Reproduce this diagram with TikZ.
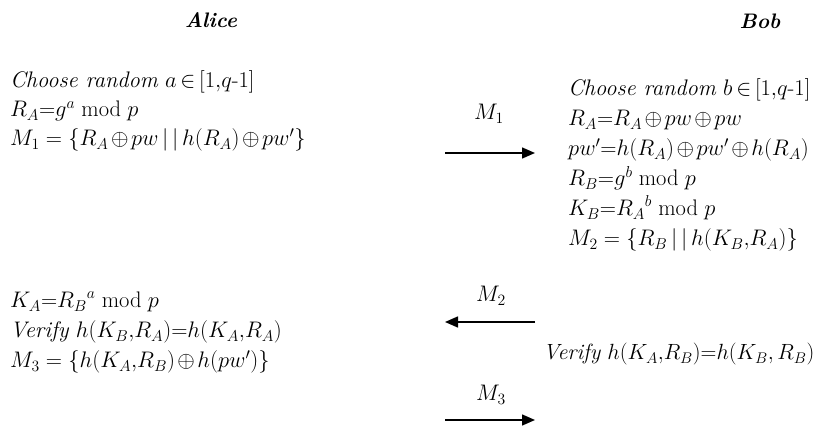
\RequirePackage{fix-cm}
\documentclass[tikz,border=0pt]{standalone}
\usetikzlibrary{arrows.meta}
\newcommand{\fsz}{\fontsize{22.5}{27}\selectfont\medmuskip=2mu plus 1mu minus 1mu}
\tikzset{
  txt/.style={anchor=base west, inner sep=0pt, font=\fsz},
  lbl/.style={anchor=base, inner sep=0pt, font=\fsz},
  head/.style={anchor=base, inner sep=0pt, font=\fontsize{21}{25}\selectfont\bfseries\itshape},
  msg/.style={line width=1.5pt, -{Triangle[length=13pt,width=11pt]}},
}
\begin{document}
\begin{tikzpicture}[x=1pt,y=-1pt]
\useasboundingbox (0,0) rectangle (825,427);
% headers
\node[head] (alice) at (211,28) {Alice};
\node[head] (bob) at (760,29) {Bob};
% Alice first block
\node[txt] (a1) at (10,88) {\textit{Choose random} $a\,{\in}\,[1{,}q\mbox{-}1]$};
\node[txt] (a2) at (10,117) {$R_A{=}g^{a}\bmod p$};
\node[txt] (a3) at (10,146) {$M_1 = \{R_A\oplus pw\,|\,|\,h(R_A)\oplus pw'\}$};
% Bob first block
\node[txt] (b1) at (568,96) {\textit{Choose random} $b\,{\in}\,[1{,}q\mbox{-}1]$};
\node[txt] (b2) at (568,126) {$R_A{=}R_A\oplus pw\oplus pw$};
\node[txt] (b3) at (568,156) {$pw'{=}h(R_A)\oplus pw'\oplus h(R_A)$};
\node[txt] (b4) at (568,186) {$R_B{=}g^{b}\bmod p$};
\node[txt] (b5) at (568,216) {$K_B{=}{R_A}^{b}\bmod p$};
\node[txt] (b6) at (568,246) {$M_2 = \{R_B\,|\,|\,h(K_B{,}R_A)\}$};
% Alice second block
\node[txt] (c1) at (10,308) {$K_A{=}{R_B}^{a}\bmod p$};
\node[txt] (c2) at (10,338) {\textit{Verify} $h(K_B{,}R_A){=}h(K_A{,}R_A)$};
\node[txt] (c3) at (10,368) {$M_3 = \{h(K_A{,}R_B)\oplus h(pw')\}$};
% Bob second block
\node[txt, font=\fontsize{22}{27}\selectfont] (d1) at (543,360) {\textit{Verify} $h(K_A{,}R_B){=}h(K_B{,}\,R_B)$};
% messages
\node[lbl] (m1) at (489,120) {$M_1$};
\node[lbl] (m2) at (491,302) {$M_2$};
\node[lbl] (m3) at (491,401) {$M_3$};
\coordinate (m1s) at (445,153);
\coordinate (m1e) at (535,153);
\coordinate (m2s) at (535,322);
\coordinate (m2e) at (445,322);
\coordinate (m3s) at (445,420);
\coordinate (m3e) at (535,420);
\draw[msg] (m1s) -- (m1e);
\draw[msg] (m2s) -- (m2e);
\draw[msg] (m3s) -- (m3e);
\end{tikzpicture}
\end{document}
